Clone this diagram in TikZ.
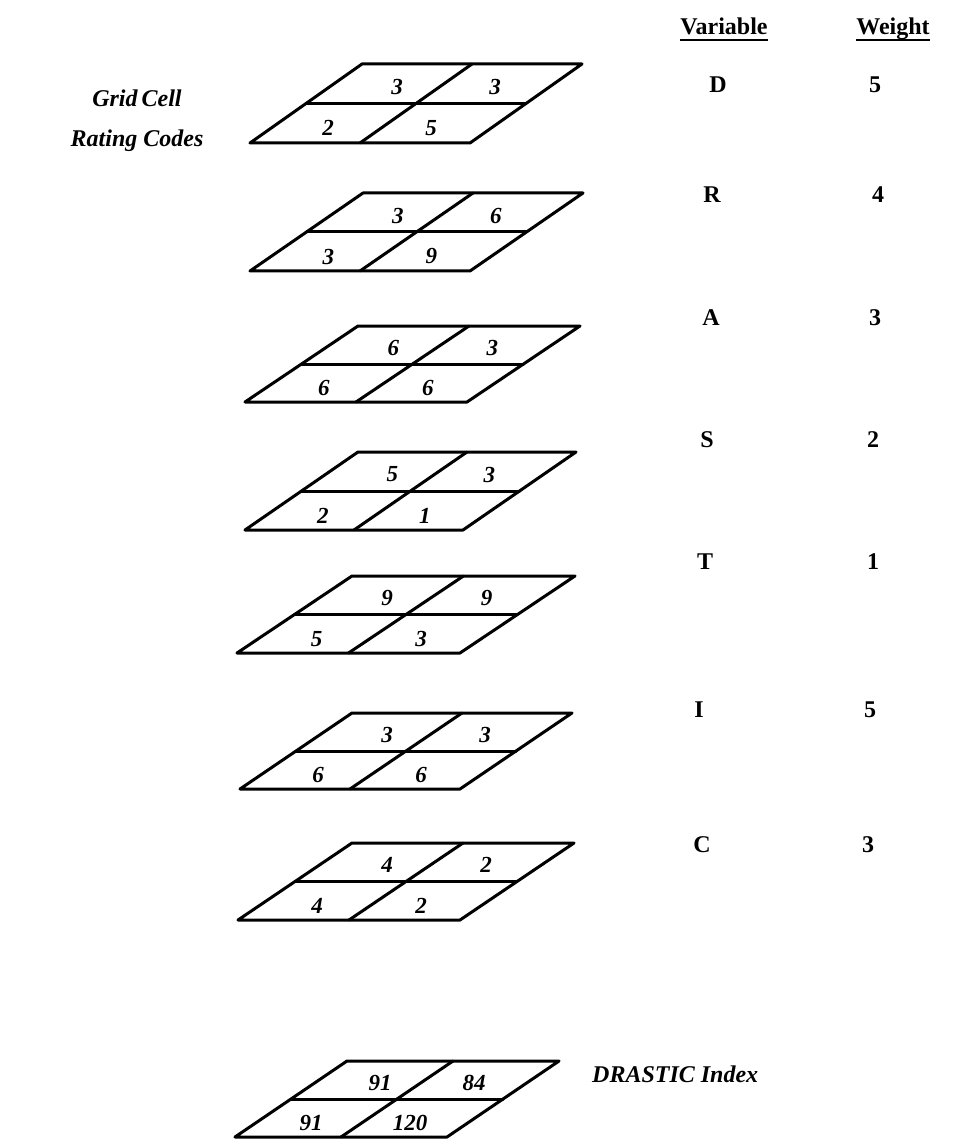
\documentclass[tikz,border=0pt]{standalone}
\usepackage{fontspec}
\setmainfont{Liberation Serif}
\usetikzlibrary{calc}
\tikzset{
  gridline/.style={line width=3pt, line join=round, line cap=round},
  num/.style={inner sep=0pt, font=\fontsize{23}{26}\selectfont\bfseries\itshape},
  varlabel/.style={inner sep=0pt, font=\fontsize{24}{28}\selectfont\bfseries},
  headlabel/.style={inner sep=0pt, anchor=base, font=\fontsize{24}{28}\selectfont\bfseries},
  uline/.style={line width=1.6pt},
  sidelabel/.style={inner sep=0pt, align=center, font=\fontsize{24}{40}\selectfont\bfseries\itshape}
}
\begin{document}
\begin{tikzpicture}[x=1pt,y=-1pt]
\useasboundingbox (0,0) rectangle (953,1139);
\fill[white] (0,0) rectangle (953,1139);
% grids
\foreach \n/\gx/\gy/\gw/\gd/\gh/\na/\nb/\nc/\nd in {
  gD/250/143/220/112/79/3/3/2/5,
  gR/250/271/220/113/78/3/6/3/9,
  gA/245/402/222/113/76/6/3/6/6,
  gS/245/530/218/113/78/5/3/2/1,
  gT/237/653/223/115/77/9/9/5/3,
  gI/240/789/220/112/76/3/3/6/6,
  gC/238/920/222/114/77/4/2/4/2,
  gX/235/1137/212/112/76/91/84/91/120}{
  \coordinate (\n-bl) at (\gx,\gy);
  \coordinate (\n-br) at (\gx+\gw,\gy);
  \coordinate (\n-tr) at (\gx+\gw+\gd,\gy-\gh);
  \coordinate (\n-tl) at (\gx+\gd,\gy-\gh);
  \draw[gridline] (\n-bl) -- (\n-br) -- (\n-tr) -- (\n-tl) -- cycle;
  \draw[gridline] ($(\n-bl)!0.5!(\n-tl)$) -- ($(\n-br)!0.5!(\n-tr)$);
  \draw[gridline] ($(\n-bl)!0.5!(\n-br)$) -- ($(\n-tl)!0.5!(\n-tr)$);
  \node[num] (\n-a) at (\gx+0.25*\gw+0.75*\gd+8, \gy-0.75*\gh+3) {\na};
  \node[num] (\n-b) at (\gx+0.75*\gw+0.75*\gd-4, \gy-0.75*\gh+3) {\nb};
  \node[num] (\n-c) at (\gx+0.25*\gw+0.25*\gd-5, \gy-0.25*\gh+5) {\nc};
  \node[num] (\n-d) at (\gx+0.75*\gw+0.25*\gd-12, \gy-0.25*\gh+5) {\nd};
}
% headers
\node[headlabel] (hvar) at (724,35) {Variable};
\node[headlabel] (hwt) at (893,35) {Weight};
\draw[uline] ([yshift=-5pt]hvar.base west) -- ([yshift=-5pt]hvar.base east);
\draw[uline] ([yshift=-5pt]hwt.base west) -- ([yshift=-5pt]hwt.base east);
% variables and weights
\foreach \v/\w/\vx/\wx/\yy in {D/5/718/875/85, R/4/712/878/195, A/3/711/875/318,
  S/2/707/873/440, T/1/705/873/562, I/5/699/870/710, C/3/702/868/845}{
  \node[varlabel] (var\v) at (\vx,\yy) {\v};
  \node[varlabel] (wt\v) at (\wx,\yy) {\w};
}
% side labels
\node[sidelabel] (gcl) at (137,121) {Grid\,Cell\\Rating Codes};
\node[sidelabel, anchor=west] (dix) at (592,1074) {DRASTIC Index};
\end{tikzpicture}
\end{document}
